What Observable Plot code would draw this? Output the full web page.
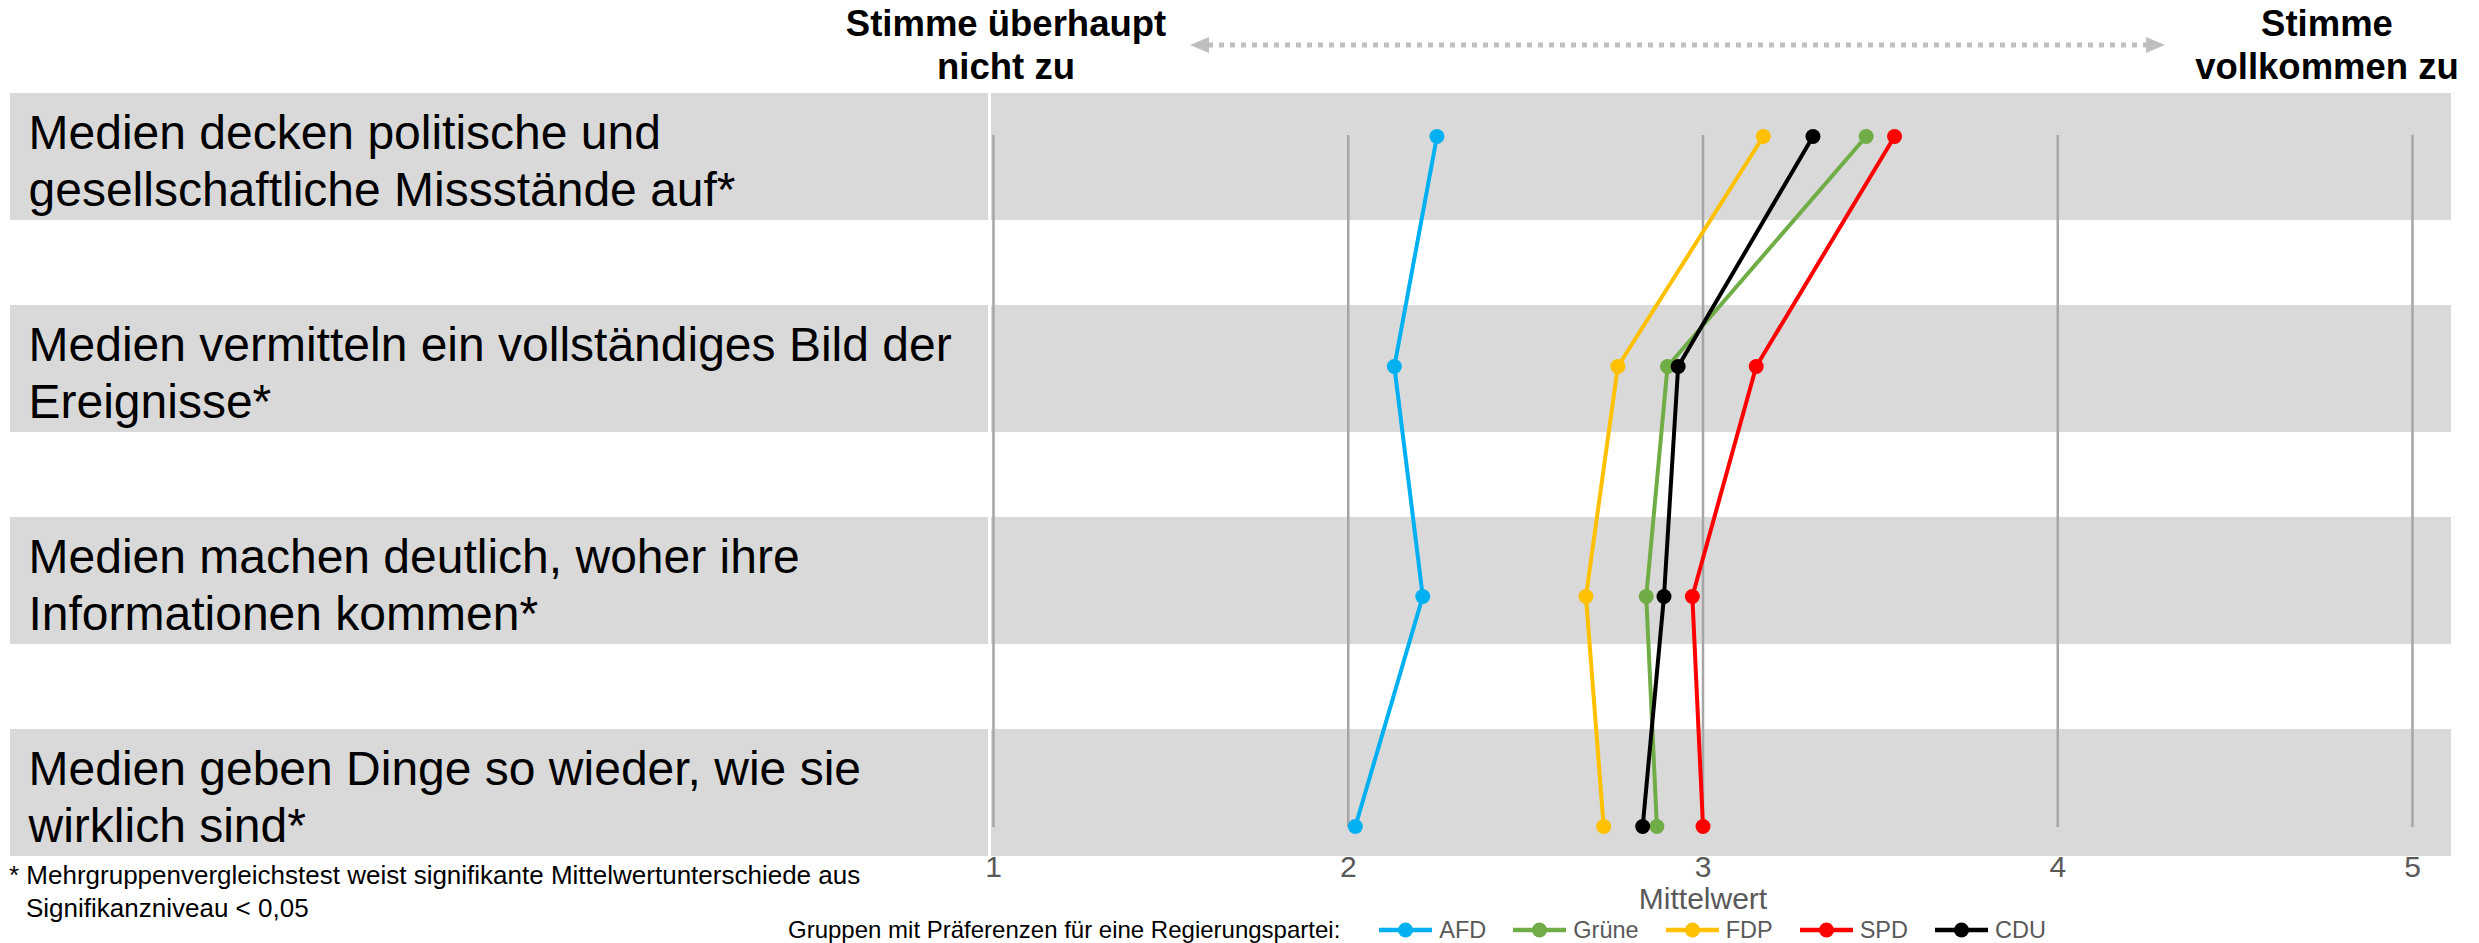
<!DOCTYPE html>
<html><head><meta charset="utf-8">
<script src="https://cdn.jsdelivr.net/npm/d3@7"></script>
<script src="https://cdn.jsdelivr.net/npm/@observablehq/plot@0.6"></script>
<style>
html,body{margin:0;padding:0;background:#fff;overflow:hidden;}
#root{position:relative;width:2479px;height:943px;font-family:"Liberation Sans",Arial,sans-serif;}
#root > svg, #root > .layer{position:absolute;left:0;top:0;}
.hdr{position:absolute;font-weight:bold;font-size:36.5px;line-height:43.3px;text-align:center;color:#000;white-space:nowrap;}
.fn{position:absolute;font-size:26px;line-height:33px;color:#000;white-space:nowrap;}
.legend{position:absolute;display:flex;align-items:center;height:34px;white-space:nowrap;}
</style></head><body><div id="root"></div>
<script>
// ---- data ----
const statements = [
  "Medien decken politische und\ngesellschaftliche Missstände auf*",
  "Medien vermitteln ein vollständiges Bild der\nEreignisse*",
  "Medien machen deutlich, woher ihre\nInformationen kommen*",
  "Medien geben Dinge so wieder, wie sie\nwirklich sind*"
];
const parties = ["AFD", "Grüne", "FDP", "SPD", "CDU"];
const partyColors = ["#00B0F0", "#70AD47", "#FFC000", "#FF0000", "#000000"];
const afd    = [2.25, 2.13, 2.21, 2.02];
const gruene = [3.46, 2.90, 2.84, 2.87];
const fdp    = [3.17, 2.76, 2.67, 2.72];
const spd    = [3.54, 3.15, 2.97, 3.00];
const cdu    = [3.31, 2.93, 2.89, 2.83];
const xTicks = [1, 2, 3, 4, 5];
const axisLabel = "Mittelwert";
const headerLeft = ["Stimme überhaupt", "nicht zu"];
const headerRight = ["Stimme", "vollkommen zu"];
const legendTitle = "Gruppen mit Präferenzen für eine Regierungspartei:";
const footnote = ["* Mehrgruppenvergleichstest weist signifikante Mittelwertunterschiede aus", "Signifikanzniveau < 0,05"];

const seriesValues = [afd, gruene, fdp, spd, cdu];
const rows = parties.flatMap((p, i) => statements.map((s, j) => ({party: p, statement: s, value: seriesValues[i][j]})));

const W = 2479, H = 943;
const font = "'Liberation Sans', Arial, sans-serif";
const yBand = {type: "band", domain: statements, paddingInner: 0.399, paddingOuter: 0, axis: null};
const root = document.getElementById("root");

// left table column (statement labels)
const labelsPlot = Plot.plot({
  width: 988, height: H, marginLeft: 10, marginRight: 0, marginTop: 93, marginBottom: 86,
  x: {type: "band", domain: ["Aussage"], padding: 0, axis: null},
  y: yBand,
  style: {fontFamily: font, background: "transparent", overflow: "visible"},
  marks: [
    Plot.cell(statements, {x: () => "Aussage", y: d => d, fill: "#d9d9d9", inset: 0}),
    Plot.text(statements, {y: d => d, text: d => d, frameAnchor: "left", textAnchor: "start", dx: 18, dy: 2, fontSize: 48, lineHeight: 1.19, fill: "#000"})
  ]
});
root.appendChild(labelsPlot);

// gray bands behind the chart
const bandsPlot = Plot.plot({
  width: W, height: H, marginLeft: 991, marginRight: 28, marginTop: 93, marginBottom: 86,
  x: {type: "band", domain: ["Mittelwert"], padding: 0, axis: null},
  y: yBand,
  style: {fontFamily: font, background: "transparent", overflow: "visible"},
  marks: [
    Plot.cell(statements, {x: () => "Mittelwert", y: d => d, fill: "#d9d9d9", inset: 0})
  ]
});
root.appendChild(bandsPlot);

// chart
const chart = Plot.plot({
  width: W, height: H, marginLeft: 993, marginRight: 67, marginTop: 135, marginBottom: 116,
  x: {domain: [1, 5]},
  y: {type: "point", domain: statements, padding: 0, axis: null},
  color: {domain: parties, range: partyColors},
  style: {fontFamily: font, background: "transparent", overflow: "visible"},
  marks: [
    Plot.ruleX(xTicks, {stroke: "#a6a6a6", strokeWidth: 2.5}),
    Plot.axisX({ticks: xTicks, tickFormat: d => String(d), tickSize: 0, tickPadding: 28, fontSize: 30, color: "#595959", label: null}),
    Plot.text([axisLabel], {frameAnchor: "bottom", lineAnchor: "top", dy: 60, fontSize: 30, fill: "#595959"}),
    Plot.line(rows, {x: "value", y: "statement", z: "party", stroke: "party", strokeWidth: 4}),
    Plot.dot(rows, {x: "value", y: "statement", fill: "party", r: 7.5})
  ]
});
root.appendChild(chart);

// headers
function header(lines, left, width) {
  const d = document.createElement("div");
  d.className = "hdr";
  d.style.left = left + "px"; d.style.top = "2px"; d.style.width = width + "px";
  lines.forEach((l, i) => { if (i) d.appendChild(document.createElement("br")); d.appendChild(document.createTextNode(l)); });
  root.appendChild(d);
}
header(headerLeft, 806, 400);
header(headerRight, 2177, 300);

// double arrow
const NS = "http://www.w3.org/2000/svg";
const arrow = document.createElementNS(NS, "svg");
arrow.setAttribute("width", 980); arrow.setAttribute("height", 24);
arrow.setAttribute("class", "layer");
arrow.style.left = "1188px"; arrow.style.top = "33px";
arrow.innerHTML = '<line x1="20" x2="958" y1="12" y2="12" stroke="#bfbfbf" stroke-width="5" stroke-dasharray="5 6"/>' +
  '<polygon points="2,12 21,4 21,20" fill="#bfbfbf"/><polygon points="977,12 958,4 958,20" fill="#bfbfbf"/>';
root.appendChild(arrow);

// footnote
const fn = document.createElement("div");
fn.className = "fn"; fn.style.left = "9px"; fn.style.top = "859px";
fn.appendChild(document.createTextNode(footnote[0]));
fn.appendChild(document.createElement("br"));
const fn2 = document.createElement("span"); fn2.style.paddingLeft = "17px"; fn2.textContent = footnote[1];
fn.appendChild(fn2);
root.appendChild(fn);

// legend
const lg = document.createElement("div");
lg.className = "legend"; lg.style.left = "788px"; lg.style.top = "913px";
const t = document.createElement("span");
t.textContent = legendTitle; t.style.fontSize = "24px"; t.style.color = "#000"; t.style.marginRight = "39px";
lg.appendChild(t);
parties.forEach((p, i) => {
  const s = document.createElementNS(NS, "svg");
  s.setAttribute("width", 53); s.setAttribute("height", 16);
  s.innerHTML = `<line x1="0" x2="53" y1="8" y2="8" stroke="${partyColors[i]}" stroke-width="4.5"/><circle cx="26.5" cy="8" r="7.5" fill="${partyColors[i]}"/>`;
  lg.appendChild(s);
  const l = document.createElement("span");
  l.textContent = p; l.style.fontSize = "23.5px"; l.style.color = "#595959";
  l.style.marginLeft = "7px"; l.style.marginRight = "27px";
  lg.appendChild(l);
});
root.appendChild(lg);
</script>
</body></html>
